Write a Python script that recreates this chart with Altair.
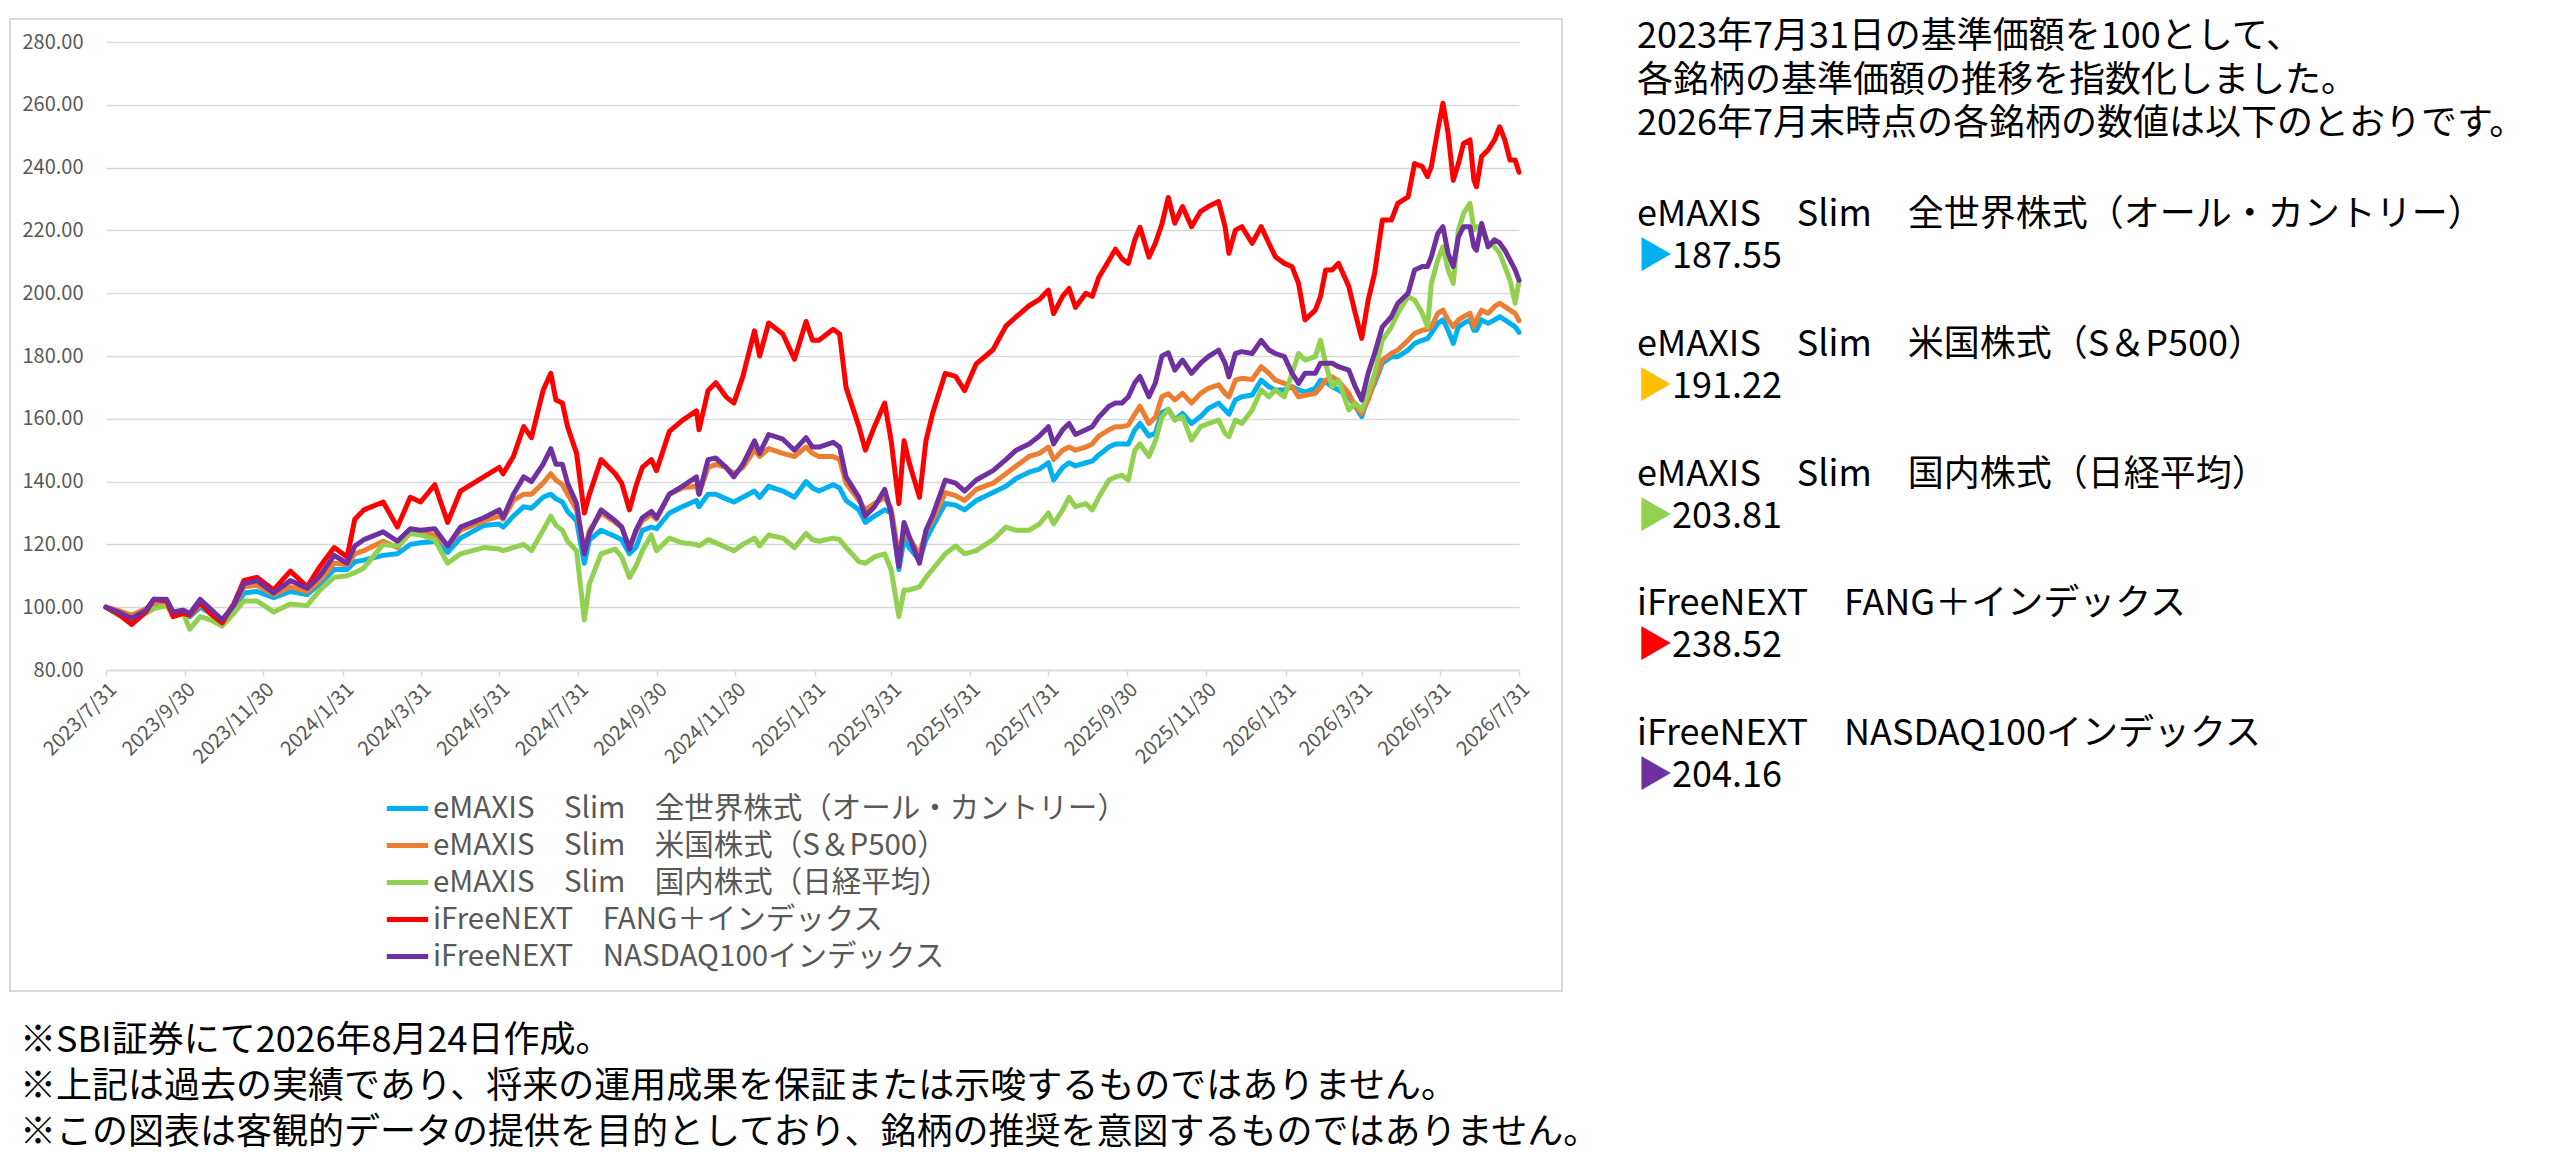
import pandas as pd
import altair as alt

# ------------------------------------------------------------
# 1. Data (index, 2023/7/31 = 100)
# ------------------------------------------------------------

base_date = "2023-07-31"

# days after 2023/7/31 of every reading
day_offsets = [
    0, 9, 20, 31, 37, 47, 52, 60, 65, 73,
    81, 90, 99, 107, 117, 130, 143, 156, 166, 177,
    187, 193, 200, 215, 226, 236, 244, 255, 265, 275,
    293, 305, 308, 316, 324, 330, 339, 345, 349, 354,
    358, 365, 371, 375, 384, 395, 400, 406, 411, 416,
    423, 427, 437, 447, 458, 460, 467, 473, 481, 487,
    494, 503, 507, 514, 525, 534, 543, 548, 553, 564,
    569, 574, 584, 589, 596, 604, 609, 615, 619, 623,
    631, 636, 641, 651, 659, 666, 675, 688, 698, 706,
    716, 724, 731, 735, 742, 747, 752, 760, 765, 770,
    778, 783, 788, 793, 798, 802, 809, 814, 819, 824,
    829, 835, 842, 849, 855, 863, 868, 871, 876, 881,
    889, 896, 902, 907, 914, 920, 925, 930, 938, 942,
    946, 951, 956, 964, 969, 974, 979, 984, 990, 997,
    1002, 1010, 1015, 1021, 1025, 1028, 1033, 1037, 1041, 1045,
    1049, 1053, 1058, 1061, 1063, 1067, 1072, 1077, 1081, 1085,
    1089, 1093, 1096,
]

world = [
    100, 98.5, 97, 99, 101, 101, 98.5, 98.5, 97, 100,
    98, 95.5, 99.5, 104.5, 105, 103, 105, 104, 107.5, 112,
    112, 114.5, 115, 116.5, 117, 120, 120.5, 121, 117.5, 122,
    126, 126.5, 125.5, 129, 132, 131.5, 135, 136, 134.5, 133.5,
    130.5, 127.5, 114, 121.5, 124.5, 122.5, 121.5, 117, 119, 124.5,
    125.5, 125, 130, 132, 134, 132, 136, 136, 134.5, 133.5,
    135, 137, 135, 138.5, 137, 135, 140, 138, 137, 139,
    138, 134, 131, 127, 129, 131, 130, 112, 121.5, 119,
    115, 121.5, 125.5, 133, 132.5, 131, 134, 136.5, 138.5, 141,
    143, 144, 146, 140.5, 144.5, 146, 145, 146, 146.5, 148.5,
    151, 152, 152, 152, 156.5, 158.5, 154.5, 155.5, 162, 163,
    159.6, 161.7, 158.5, 160.7, 163.3, 165, 162.8, 161.5, 166, 167,
    167.6, 172.3, 170.2, 169.2, 169.2, 170.2, 169.2, 168.5, 169.7, 172.3,
    171.8, 170.2, 169.2, 167, 163.9, 160.7, 167, 171.3, 177.7, 179.8,
    179.8, 181.9, 184, 185, 185.5, 187.2, 190.4, 191.5, 188.2, 184,
    189.3, 190.4, 191.5, 188.2, 188.2, 191.5, 190.4, 191.5, 192.5, 191.5,
    190.4, 189.3, 187.55,
]

sp500 = [
    100, 99, 97.5, 99.5, 101.5, 101.5, 98.5, 99, 97.5, 101,
    98.5, 96, 100, 106.5, 107, 104, 106.5, 105, 108.5, 114,
    113.5, 117, 118, 121, 119, 124, 123.5, 123, 119.5, 124.5,
    127.5, 129, 128, 134, 136, 136, 139.5, 142.5, 140.5, 139,
    136, 131, 118, 124.5, 130, 127, 125.5, 119, 124, 127.5,
    129.5, 128, 136, 138, 138.5, 136, 144.5, 145.5, 144.5, 142.5,
    144.5, 150, 148, 150.5, 149, 148, 151, 149, 148, 148,
    147, 139.5, 134, 131, 133, 135, 131.5, 116, 124, 122,
    117, 124, 127.5, 136.5, 135.5, 134, 137.5, 139.5, 142.5, 145,
    148, 149, 151, 147, 150, 151, 150, 151, 152, 154.5,
    156.5, 157.5, 157.5, 158, 161.5, 164, 158.5, 160.5, 167, 168,
    166, 168.1, 165, 168.1, 169.7, 170.8, 168.1, 167, 172.3, 172.9,
    172.5, 176.6, 174.5, 172.3, 171.3, 170.2, 167, 167.5, 168.1, 170,
    172.3, 173.4, 172, 168.1, 163.9, 161.7, 166, 172.3, 178.7, 180.8,
    181.9, 185, 187.2, 188.2, 188.5, 189.3, 193.6, 194.6, 191.5, 189.3,
    191.5, 192.5, 193.6, 189.3, 191.5, 194.6, 193.6, 195.7, 196.8, 195.7,
    194.6, 193.6, 191.22,
]

nikkei = [
    100, 97.5, 96.5, 98, 99.5, 100.5, 97.5, 98, 93, 97,
    96, 94, 98, 102, 102, 98.5, 101, 100.5, 105.5, 109.5,
    110, 111, 112.5, 120, 119.5, 123.5, 123, 121.5, 114, 117,
    119, 118.5, 118, 119, 120, 118, 124.5, 129, 126, 124.5,
    121, 118, 96, 107.5, 117, 118.5, 116, 109.5, 113, 118,
    123, 118, 122, 120.5, 120, 119.5, 121.5, 120.5, 119, 118,
    120, 122, 119.5, 123, 122, 119, 123.5, 121.5, 121, 122,
    121.5, 119, 114.5, 114, 116, 117, 112, 97, 105.5, 105.5,
    106.5, 109.5, 112, 117, 119.5, 117, 118, 121.5, 125.5, 124.5,
    124.5, 126.5, 130, 126.5, 131, 135, 132, 133, 131, 135,
    140.5, 141.5, 142, 140.5, 150, 152, 148, 153, 160.5, 163,
    159.6, 160.7, 153.2, 157.5, 158.5, 159.6, 155.4, 154.3, 159.6, 158.5,
    162.8, 169.2, 167, 169.2, 167, 174.5, 180.8, 178.7, 179.8, 185,
    177.7, 170.2, 172.3, 162.8, 165, 162.8, 168.1, 174.5, 185, 189.3,
    193.6, 198.9, 197.8, 193.6, 189.3, 203.1, 210.6, 214.8, 207.4, 203.1,
    220.1, 225.4, 228.6, 220.1, 221.2, 221.2, 215.9, 214.8, 212.7, 208.5,
    204.2, 196.8, 203.81,
]

fang = [
    100, 98, 94.5, 98.5, 102.5, 102, 97, 98, 97.5, 101.5,
    98, 95, 101, 108.5, 109.5, 105.5, 111.5, 106.5, 113, 119,
    116, 128, 131, 133.5, 125.5, 135, 133.5, 139, 127, 137,
    141.5, 144.5, 142.5, 148, 157.5, 154, 169, 174.5, 166, 165,
    157.5, 149, 130, 136, 147, 142.5, 139.5, 131, 138.5, 144.5,
    147, 143.5, 156, 159.5, 162.5, 156.5, 169, 171.5, 167, 165,
    173.5, 188, 180, 190.5, 187, 179, 191, 185, 185, 188.5,
    187, 170, 157.5, 150, 157.5, 165, 153, 133, 153, 146,
    135, 153, 161.5, 174.5, 173.5, 169, 177.5, 182, 189.5, 192.5,
    196, 198, 201, 193.5, 199, 201.5, 195.5, 200, 199, 205,
    210.5, 214, 211, 209.5, 217, 221, 211.5, 216, 222, 230.5,
    222.3, 227.6, 221.2, 226, 227.6, 229.2, 221.2, 212.7, 220.1, 221.2,
    215.9, 221.2, 215.9, 211.6, 209.5, 208.4, 203.1, 191.5, 194.6, 198.9,
    207.4, 207.4, 209.5, 202.1, 193.6, 185.6, 197.8, 206.3, 223.3, 223.3,
    228.6, 230.7, 241.3, 240.3, 237.1, 240.3, 252, 260.5, 250.9, 236,
    241.3, 247.7, 248.8, 236, 233.9, 243.5, 245.6, 248.8, 253, 248.8,
    242.4, 242.4, 238.52,
]

nasdaq = [
    100, 98.5, 96.5, 99, 102.5, 102.5, 98.5, 99, 98, 102.5,
    99.5, 96, 100.5, 107.5, 108.5, 104.5, 108.5, 106, 110, 116.5,
    114, 119.5, 121.5, 124, 121, 125, 124.5, 125, 119.5, 125.5,
    128.5, 131, 128.5, 136, 141.5, 140, 145.5, 150.5, 145.5, 145.5,
    139.5, 133, 117, 123.5, 131, 127.5, 125.5, 118.5, 124.5, 128.5,
    130.5, 128.5, 136, 138.5, 141.5, 136, 147, 147.5, 144.5, 141.5,
    145.5, 153, 149, 155, 153.5, 150, 154, 151, 151, 152.5,
    151, 141.5, 135, 129, 132, 137.5, 130, 113, 127, 122.5,
    114, 124.5, 129, 140.5, 139.5, 137, 140.5, 143.5, 147, 150,
    152, 154.5, 157.5, 152, 156.5, 158.5, 155, 156.5, 157.5, 160.5,
    164, 165, 165, 167, 171.5, 173.5, 167, 171.5, 180, 181,
    175.5, 178.7, 174.5, 177.7, 179.8, 181.9, 177.7, 173.4, 180.8, 181.4,
    180.8, 185, 181.9, 180.8, 179.8, 174.5, 171.3, 174.5, 174.5, 177.7,
    177.7, 177.7, 176.6, 175.5, 170.2, 166, 174.5, 180.8, 189.3, 192.5,
    196.8, 200, 207.4, 208.5, 208.5, 211.6, 219, 221.2, 212.7, 208.5,
    217.9, 221.2, 221.2, 214.8, 213.7, 222.2, 214.8, 217, 216, 213.7,
    210.6, 207.4, 204.16,
]

funds = [
    "eMAXIS　Slim　全世界株式（オール・カントリー）",
    "eMAXIS　Slim　米国株式（S＆P500）",
    "eMAXIS　Slim　国内株式（日経平均）",
    "iFreeNEXT　FANG＋インデックス",
    "iFreeNEXT　NASDAQ100インデックス",
]
series = [world, sp500, nikkei, fang, nasdaq]

line_colors = ["#00B0F0", "#ED7D31", "#92D050", "#FF0000", "#7030A0"]
marker_colors = ["#00B0F0", "#FFC000", "#92D050", "#FF0000", "#7030A0"]

tick_dates = [
    "2023-07-31", "2023-09-30", "2023-11-30", "2024-01-31", "2024-03-31",
    "2024-05-31", "2024-07-31", "2024-09-30", "2024-11-30", "2025-01-31",
    "2025-03-31", "2025-05-31", "2025-07-31", "2025-09-30", "2025-11-30",
    "2026-01-31", "2026-03-31", "2026-05-31", "2026-07-31",
]
y_ticks = [80, 100, 120, 140, 160, 180, 200, 220, 240, 260, 280]

intro_lines = [
    "2023年7月31日の基準価額を100として、",
    "各銘柄の基準価額の推移を指数化しました。",
    "2026年7月末時点の各銘柄の数値は以下のとおりです。",
]

notes = [
    "※SBI証券にて2026年8月24日作成。",
    "※上記は過去の実績であり、将来の運用成果を保証または示唆するものではありません。",
    "※この図表は客観的データの提供を目的としており、銘柄の推奨を意図するものではありません。",
]

FONT = "Noto Sans CJK JP"
GRAY = "#595959"
GRID = "#D9D9D9"
TEXT_SIZE = 36

# ------------------------------------------------------------
# 2. Long table for the line chart
# ------------------------------------------------------------

dates = pd.to_datetime(base_date) + pd.to_timedelta(day_offsets, unit="D")
df = pd.concat(
    [pd.DataFrame({"date": dates, "value": vals, "fund": name})
     for name, vals in zip(funds, series)],
    ignore_index=True,
)


def to_dt(s):
    y, m, d = s.split("-")
    return alt.DateTime(year=int(y), month=int(m), date=int(d))


x_values = [to_dt(s) for s in tick_dates]


def text_layer(t, x, y, color="black"):
    return (
        alt.Chart(pd.DataFrame({"t": [t]}))
          .mark_text(align="left", baseline="middle", fontSize=TEXT_SIZE, font=FONT, color=color)
          .encode(text="t:N", x=alt.value(x), y=alt.value(y))
    )


# ------------------------------------------------------------
# 3. Chart
# ------------------------------------------------------------

W, H = 1413, 628

frame = (
    alt.Chart(pd.DataFrame({"k": [0]}))
      .mark_rect(filled=False, stroke=GRID, strokeWidth=2)
      .encode(x=alt.value(-96), x2=alt.value(1456), y=alt.value(-23), y2=alt.value(949))
)

lines = (
    alt.Chart(df)
      .mark_line(strokeWidth=5, strokeJoin="round", strokeCap="round")
      .encode(
          x=alt.X(
              "date:T",
              title=None,
              scale=alt.Scale(domain=[x_values[0], x_values[-1]], nice=False),
              axis=alt.Axis(
                  values=x_values,
                  format="%Y/%-m/%-d",
                  labelAngle=-45,
                  grid=False,
                  domainColor=GRID,
                  domainWidth=1.5,
                  tickColor=GRID,
                  tickWidth=1.5,
                  tickSize=6,
                  labelPadding=3,
                  labelFontSize=20,
                  labelColor=GRAY,
                  labelFont=FONT,
                  labelOverlap=False,
                  labelFlush=False,
              ),
          ),
          y=alt.Y(
              "value:Q",
              title=None,
              scale=alt.Scale(domain=[80, 280], nice=False, zero=False),
              axis=alt.Axis(
                  values=y_ticks,
                  format=".2f",
                  domain=False,
                  ticks=False,
                  tickSize=0,
                  labelPadding=23,
                  labelFontSize=20,
                  labelColor=GRAY,
                  labelFont=FONT,
                  gridColor=GRID,
                  gridWidth=1.5,
              ),
          ),
          color=alt.Color(
              "fund:N",
              sort=funds,
              scale=alt.Scale(domain=funds, range=line_colors),
              legend=alt.Legend(
                  title=None,
                  orient="none",
                  legendX=281,
                  legendY=746,
                  direction="vertical",
                  symbolType="M-1.15,0H1.15",
                  symbolSize=1296,
                  symbolStrokeWidth=5,
                  labelFontSize=29.5,
                  labelColor=GRAY,
                  labelFont=FONT,
                  labelLimit=1200,
                  labelOffset=5,
                  rowPadding=2,
                  padding=0,
              ),
          ),
      )
)

layers = [frame, lines]

# right-hand explanation
for i, t in enumerate(intro_lines):
    layers.append(text_layer(t, 1531, -5 + 43.5 * i))

for i, (name, vals) in enumerate(zip(funds, series)):
    y0 = 173 + 129.8 * i
    layers.append(text_layer(name, 1531, y0))
    layers.append(text_layer("▶", 1531, y0 + 42, color=marker_colors[i]))
    layers.append(text_layer(f"{vals[-1]:.2f}", 1566, y0 + 42))

# footnotes
for i, t in enumerate(notes):
    layers.append(text_layer(t, -86, 999 + 46 * i))

chart = (
    alt.layer(*layers)
      .properties(
          width=W,
          height=H,
          autosize=alt.AutoSizeParams(type="none"),
          padding={"left": 98, "top": 34, "right": 1033, "bottom": 498},
      )
      .configure(background="white", font=FONT)
      .configure_view(stroke=None)
)

chart.save("out.html", embed_options={"renderer": "svg", "actions": False})
